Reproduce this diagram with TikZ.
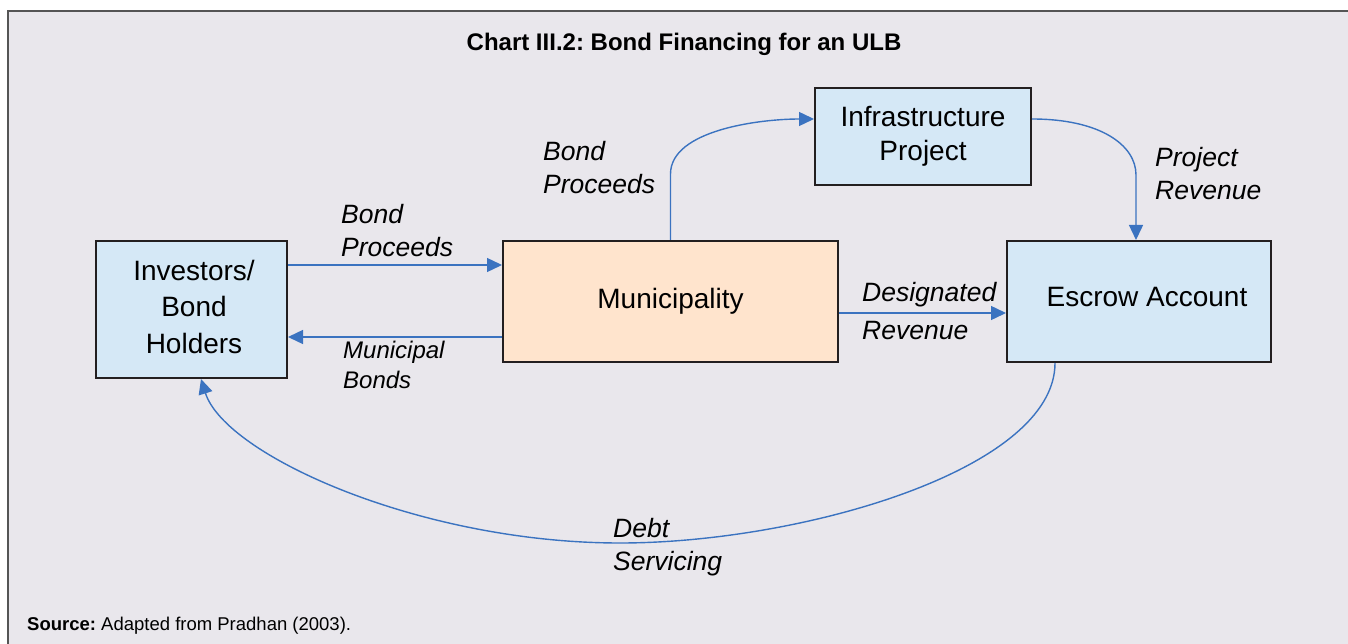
\documentclass[tikz,border=0pt]{standalone}
\usepackage{fontspec}
\setmainfont{Liberation Sans}
\usetikzlibrary{arrows.meta}
\definecolor{bg}{HTML}{E9E7EC}
\definecolor{boxblue}{HTML}{D5E8F6}
\definecolor{peach}{HTML}{FFE4CD}
\definecolor{arr}{HTML}{3B73C0}
\definecolor{edge}{HTML}{231F20}
\definecolor{framec}{HTML}{555555}
\begin{document}
\frenchspacing
\begin{tikzpicture}[x=1pt,y=-1pt,
  box/.style={draw=edge, line width=2pt, inner sep=0pt, align=center, font=\fontsize{28}{36.5}\selectfont},
  flow/.style={draw=arr, line width=1.4pt, -{Triangle[length=15pt,width=14pt]}},
  lab/.style={align=left, inner sep=0pt, font=\fontsize{26.5}{33}\selectfont\itshape, anchor=west}]
\useasboundingbox (0,0) rectangle (1348,644);
\fill[white] (0,0) rectangle (1348,644);
\fill[bg] (8,11) rectangle (1348,644);
\draw[framec, line width=2pt] (8,644) -- (8,11) -- (1348,11);

\node[box, fill=boxblue, minimum width=191pt, minimum height=137pt] (inv) at (191.5,309.5) {};
\node[inner sep=0pt, align=center, font=\fontsize{28}{36.5}\selectfont] (invt) at (194,306.5) {Investors/\\Bond\\Holders};
\node[box, fill=peach, minimum width=335pt, minimum height=121pt] (mun) at (670.5,301.5) {Municipality};
\node[box, fill=boxblue, minimum width=216pt, minimum height=97pt, font=\fontsize{28}{34}\selectfont] (inf) at (923,136.5) {Infrastructure\\Project};
\node[box, fill=boxblue, minimum width=264pt, minimum height=121pt] (esc) at (1139,301.5) {};
\node[inner sep=0pt, font=\fontsize{28}{34}\selectfont] (esct) at (1147,297) {Escrow Account};

\draw[flow] (inv.east |- 0,265) -- (mun.west |- 0,265);
\draw[flow] (mun.west |- 0,337) -- (inv.east |- 0,337);
\draw[flow] (mun.east |- 0,313) -- (esc.west |- 0,313);
\draw[flow] (mun.north) -- ++(0,-66) .. controls (670.5,130) and (760,119) .. (inf.west |- 0,119);
\draw[flow] (inf.east |- 0,119) .. controls (1100,119) and (1136,145) .. (1136,175) -- (esc.north -| 1136,0);
\draw[flow] (esc.south -| 1055,0) .. controls (1055,470) and (800,543) .. (620,543) .. controls (420,543) and (225,455) .. (inv.south -| 201,0);

\node[lab] (l1) at (341,230.5) {Bond\\Proceeds};
\node[lab, font=\fontsize{24}{30}\selectfont\itshape] (l2) at (343,365) {Municipal\\Bonds};
\node[lab] (l3) at (543,167.5) {Bond\\Proceeds};
\node[lab] (l4) at (1155,173.5) {Project\\Revenue};
\node[lab, font=\fontsize{26.5}{38}\selectfont\itshape] (l5) at (862,311) {Designated\\Revenue};
\node[lab] (l6) at (613,547) {Debt\\Servicing};

\node[font=\fontsize{24}{28}\selectfont\bfseries] (title) at (684,44) {Chart III.2: Bond Financing for an ULB};
\node[anchor=west, inner sep=0pt, font=\fontsize{18.5}{22}\selectfont] (src) at (27,626) {\textbf{Source:} Adapted from Pradhan (2003).};
\end{tikzpicture}
\end{document}
